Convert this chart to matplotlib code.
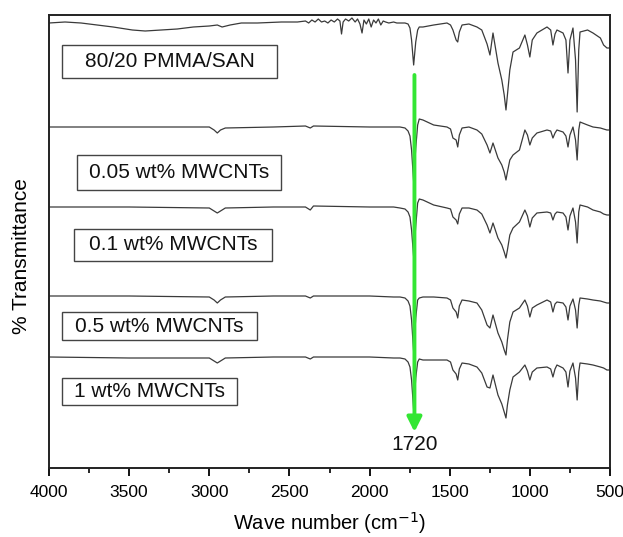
import matplotlib
matplotlib.use('Agg')
import matplotlib.pyplot as plt
from matplotlib.patches import Rectangle
from matplotlib.ticker import MultipleLocator

plt.rcParams['font.family'] = ['Liberation Sans', 'DejaVu Sans']

# shared wavenumber grid for the fingerprint region (cm-1)
wn_right = [1810, 1779, 1760, 1748, 1738, 1725, 1712, 1700, 1690, 1667, 1600, 1517, 1495, 1480, 1460,
            1450, 1440, 1423, 1380, 1330, 1300, 1267, 1249, 1230, 1199, 1175, 1160, 1149, 1140,
            1125, 1105, 1065, 1031, 1015, 1000, 985, 956, 893, 870, 856, 843, 831, 793, 775,
            762, 750, 731, 715, 705, 695, 687, 640, 606, 560, 540, 519, 500]

# stacked spectra (arbitrary offset units, larger = further down)
wn_left_blend = [4000, 3900, 3800, 3700, 3600, 3480, 3400, 3300, 3200, 3100, 3000, 2950, 2920, 2870,
                 2800, 2700, 2550, 2450, 2400, 2380, 2360, 2340, 2320, 2300, 2280, 2260, 2240,
                 2220, 2200, 2185, 2175, 2165, 2150, 2130, 2110, 2090, 2075, 2060, 2047, 2035,
                 2020, 2005, 1990, 1975, 1960, 1945, 1930, 1915, 1900, 1880, 1850, 1830]
t_left_blend = [23, 22, 23, 25, 27, 30, 31, 30, 29, 27, 26, 25, 27, 25,
                23, 23, 22, 22, 21, 23, 20, 22, 19, 22, 21, 23, 20,
                22, 19, 21, 34, 22, 19, 21, 18, 22, 19, 24, 33, 20,
                24, 19, 27, 20, 23, 19, 25, 21, 22, 23, 22, 23]
t_right_blend = [23, 23, 24, 28, 40, 65, 42, 30, 27, 27, 25, 23, 25, 30, 40,
                 42, 32, 25, 24, 27, 30, 44, 55, 33, 63, 80, 95, 110, 95,
                 70, 52, 48, 35, 45, 57, 40, 33, 27, 30, 45, 34, 30, 33, 40,
                 73, 40, 28, 60, 112, 50, 32, 30, 33, 38, 45, 48, 48]

wn_left = [4000, 3500, 3000, 2970, 2950, 2930, 2900, 2600, 2400, 2370, 2350, 2000, 1850]
t_left_005 = [127, 127, 127, 130, 133, 130, 128, 127, 126, 128, 126, 127, 127]
t_right_005 = [127, 128, 131, 136, 150, 182, 148, 125, 119, 120, 125, 127, 129, 138, 140,
               147, 135, 128, 127, 130, 134, 145, 153, 143, 158, 165, 172, 180, 172,
               160, 155, 150, 130, 135, 145, 138, 133, 130, 131, 138, 133, 130, 132, 136,
               147, 135, 127, 140, 160, 130, 122, 125, 127, 128, 129, 130, 130]
t_left_01 = [207, 207, 208, 211, 213, 211, 208, 207, 207, 210, 206, 207, 207]
t_right_01 = [208, 209, 212, 217, 230, 257, 226, 203, 199, 200, 205, 208, 209, 217, 220,
              224, 214, 208, 208, 210, 214, 225, 233, 223, 238, 245, 252, 258, 250,
              235, 228, 222, 210, 216, 227, 218, 213, 212, 213, 220, 214, 212, 213, 217,
              230, 216, 208, 222, 243, 212, 205, 207, 210, 212, 214, 215, 215]
t_left_05 = [296, 296, 297, 300, 303, 300, 297, 296, 296, 298, 296, 296, 297]
t_right_05 = [297, 298, 301, 306, 320, 352, 318, 300, 298, 297, 297, 298, 300, 308, 312,
              318, 306, 300, 301, 303, 310, 325, 328, 315, 333, 342, 350, 355, 340,
              322, 312, 308, 300, 306, 317, 308, 305, 300, 302, 312, 304, 302, 303, 307,
              320, 306, 299, 310, 328, 305, 298, 299, 300, 301, 302, 303, 303]
t_left_1 = [357, 358, 358, 361, 363, 361, 358, 357, 357, 359, 357, 357, 358]
t_right_1 = [358, 359, 362, 367, 380, 410, 378, 362, 359, 360, 360, 360, 362, 370, 374,
             380, 369, 363, 364, 367, 373, 387, 388, 375, 395, 404, 412, 418, 405,
             390, 377, 372, 365, 371, 380, 372, 368, 367, 369, 377, 369, 365, 368, 372,
             387, 371, 363, 378, 400, 372, 363, 364, 365, 367, 368, 370, 370]

labels = ['80/20 PMMA/SAN', '0.05 wt% MWCNTs', '0.1 wt% MWCNTs', '0.5 wt% MWCNTs', '1 wt% MWCNTs']
spectra = [
    (wn_left_blend + wn_right, t_left_blend + t_right_blend),
    (wn_left + wn_right, t_left_005 + t_right_005),
    (wn_left + wn_right, t_left_01 + t_right_01),
    (wn_left + wn_right, t_left_05 + t_right_05),
    (wn_left + wn_right, t_left_1 + t_right_1),
]
# label boxes in pixel coords (x0, y0, x1, y1)
boxes = [(62, 45, 277, 78), (77, 155, 281, 190), (74, 229, 272, 261), (62, 312, 257, 340), (62, 378, 237, 405)]

W, H = 623, 537
L, R, T, B = 49, 610, 15, 468
fig = plt.figure(figsize=(W / 100, H / 100), dpi=100)
ax = fig.add_axes([L / W, 1 - B / H, (R - L) / W, (B - T) / H])

for wn, t in spectra:
    ax.plot(wn, t, color='#3a3a3a', lw=0.9)

ax.set_xlim(4000, 500)
ax.set_ylim(B, T)

def to_axes(px, py):
    return (px - L) / (R - L), (B - py) / (B - T)

for (x0, y0, x1, y1), lab in zip(boxes, labels):
    ax0, ay1 = to_axes(x0, y1)
    ax1, ay0 = to_axes(x1, y0)
    ax.add_patch(Rectangle((ax0, ay1), ax1 - ax0, ay0 - ay1, transform=ax.transAxes,
                           fill=False, edgecolor='#444444', lw=1.0))
    ax.text((ax0 + ax1) / 2, (ay0 + ay1) / 2, lab, transform=ax.transAxes,
            ha='center', va='center', fontsize=15, color='#111111')

ax.annotate('', xy=(1720, 432), xytext=(1720, 75),
            arrowprops=dict(arrowstyle='-|>', color='#33e633', lw=2.8, mutation_scale=22,
                            shrinkA=0, shrinkB=0))
ax.text(1720, 444, '1720', ha='center', va='center', fontsize=15, color='#111111')

ax.xaxis.set_major_locator(MultipleLocator(500))
ax.xaxis.set_minor_locator(MultipleLocator(250))
ax.tick_params(axis='x', which='major', direction='out', length=6, width=1.3, labelsize=12.5, pad=6)
ax.tick_params(axis='x', which='minor', direction='out', length=3.5, width=1.2)
ax.set_yticks([])
for s in ax.spines.values():
    s.set_linewidth(1.4)
    s.set_color('#222222')

ax.set_xlabel('Wave number (cm$^{-1}$)', fontsize=14.5)
ax.xaxis.set_label_coords(0.5, -(523 - B) / (B - T), transform=ax.transAxes)
ax.xaxis.label.set_va('center')
ax.set_ylabel('% Transmittance', fontsize=15)
ax.yaxis.set_label_coords(to_axes(22, 0)[0], to_axes(0, 256)[1], transform=ax.transAxes)
ax.yaxis.label.set_va('center')

fig.savefig('out.png', dpi=100)
